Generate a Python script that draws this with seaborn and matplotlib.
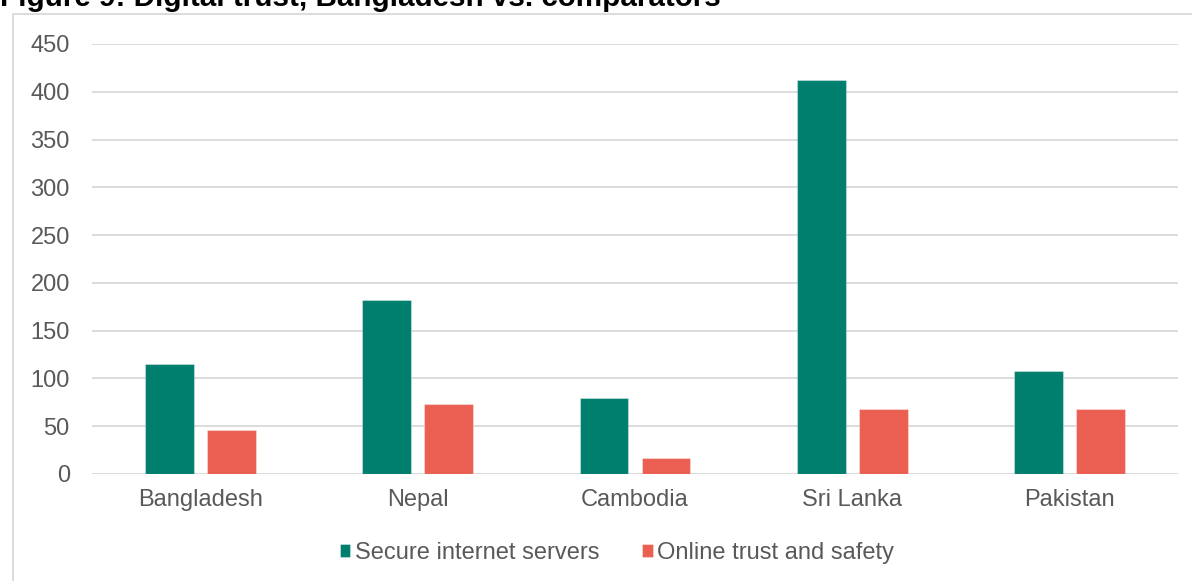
import matplotlib
matplotlib.use("Agg")
import matplotlib.pyplot as plt
from matplotlib.lines import Line2D
import pandas as pd
import seaborn as sns

# Digital trust indicators by country
countries = ["Bangladesh", "Nepal", "Cambodia", "Sri Lanka", "Pakistan"]
secure_servers = [115, 182, 80, 412, 108]
online_trust = [46, 73, 17, 68, 68]
series_names = ["Secure internet servers", "Online trust and safety"]
y_ticks = [0, 50, 100, 150, 200, 250, 300, 350, 400, 450]

df = pd.DataFrame({
    "country": countries * 2,
    "series": [series_names[0]] * len(countries) + [series_names[1]] * len(countries),
    "value": secure_servers + online_trust,
})

sns.set_theme(style="white")
plt.rcParams["font.family"] = ["Liberation Sans", "DejaVu Sans"]

TEXT_GREY = "#595959"
GRID_GREY = "#D9D9D9"
palette = {series_names[0]: "#007E6E", series_names[1]: "#EA5F51"}

fig = plt.figure(figsize=(11.92, 5.81), dpi=100)
ax = fig.add_axes([92 / 1192, 1 - 474 / 581, (1178 - 92) / 1192, (474 - 44) / 581])

sns.barplot(
    data=df, x="country", y="value", hue="series", order=countries,
    hue_order=series_names, palette=palette, width=0.571, gap=0.21,
    saturation=1, edgecolor=(1, 1, 1, 0.35), linewidth=0.8, ax=ax,
)

ax.set_ylim(0, 450)
ax.set_xlim(-0.5, len(countries) - 0.5)
ax.set_yticks(y_ticks)
ax.set_yticklabels([str(t) for t in y_ticks])
ax.yaxis.grid(True, color=GRID_GREY, linewidth=1.3)
ax.xaxis.grid(False)
ax.set_axisbelow(True)
for s in ax.spines.values():
    s.set_visible(False)
ax.set_xlabel("")
ax.set_ylabel("")
ax.tick_params(axis="y", length=0, pad=16, labelsize=17, labelcolor=TEXT_GREY)
ax.tick_params(axis="x", length=0, pad=11, labelsize=17, labelcolor=TEXT_GREY)

handles, labels = ax.get_legend_handles_labels()
ax.legend(
    handles, labels, loc="center", bbox_to_anchor=(617 / 1192, 1 - 553 / 581),
    bbox_transform=fig.transFigure, ncol=2, frameon=False, fontsize=17,
    labelcolor=TEXT_GREY, handlelength=0.45, handleheight=0.45,
    handletextpad=0.2, columnspacing=1.8, borderaxespad=0,
)

# Chart frame (top and left edges)
fig.add_artist(Line2D([13 / 1192, 1.0], [1 - 14 / 581, 1 - 14 / 581],
                      transform=fig.transFigure, color=GRID_GREY, linewidth=1.3))
fig.add_artist(Line2D([13 / 1192, 13 / 1192], [1 - 14 / 581, 0.0],
                      transform=fig.transFigure, color=GRID_GREY, linewidth=1.3))

# Figure caption above the chart
fig.text(0.0, 1 - 6 / 581, "Figure 9: Digital trust, Bangladesh vs. comparators",
         ha="left", va="baseline", fontsize=21.3, fontweight="bold", color="black")

fig.savefig("out.png", dpi=100)
